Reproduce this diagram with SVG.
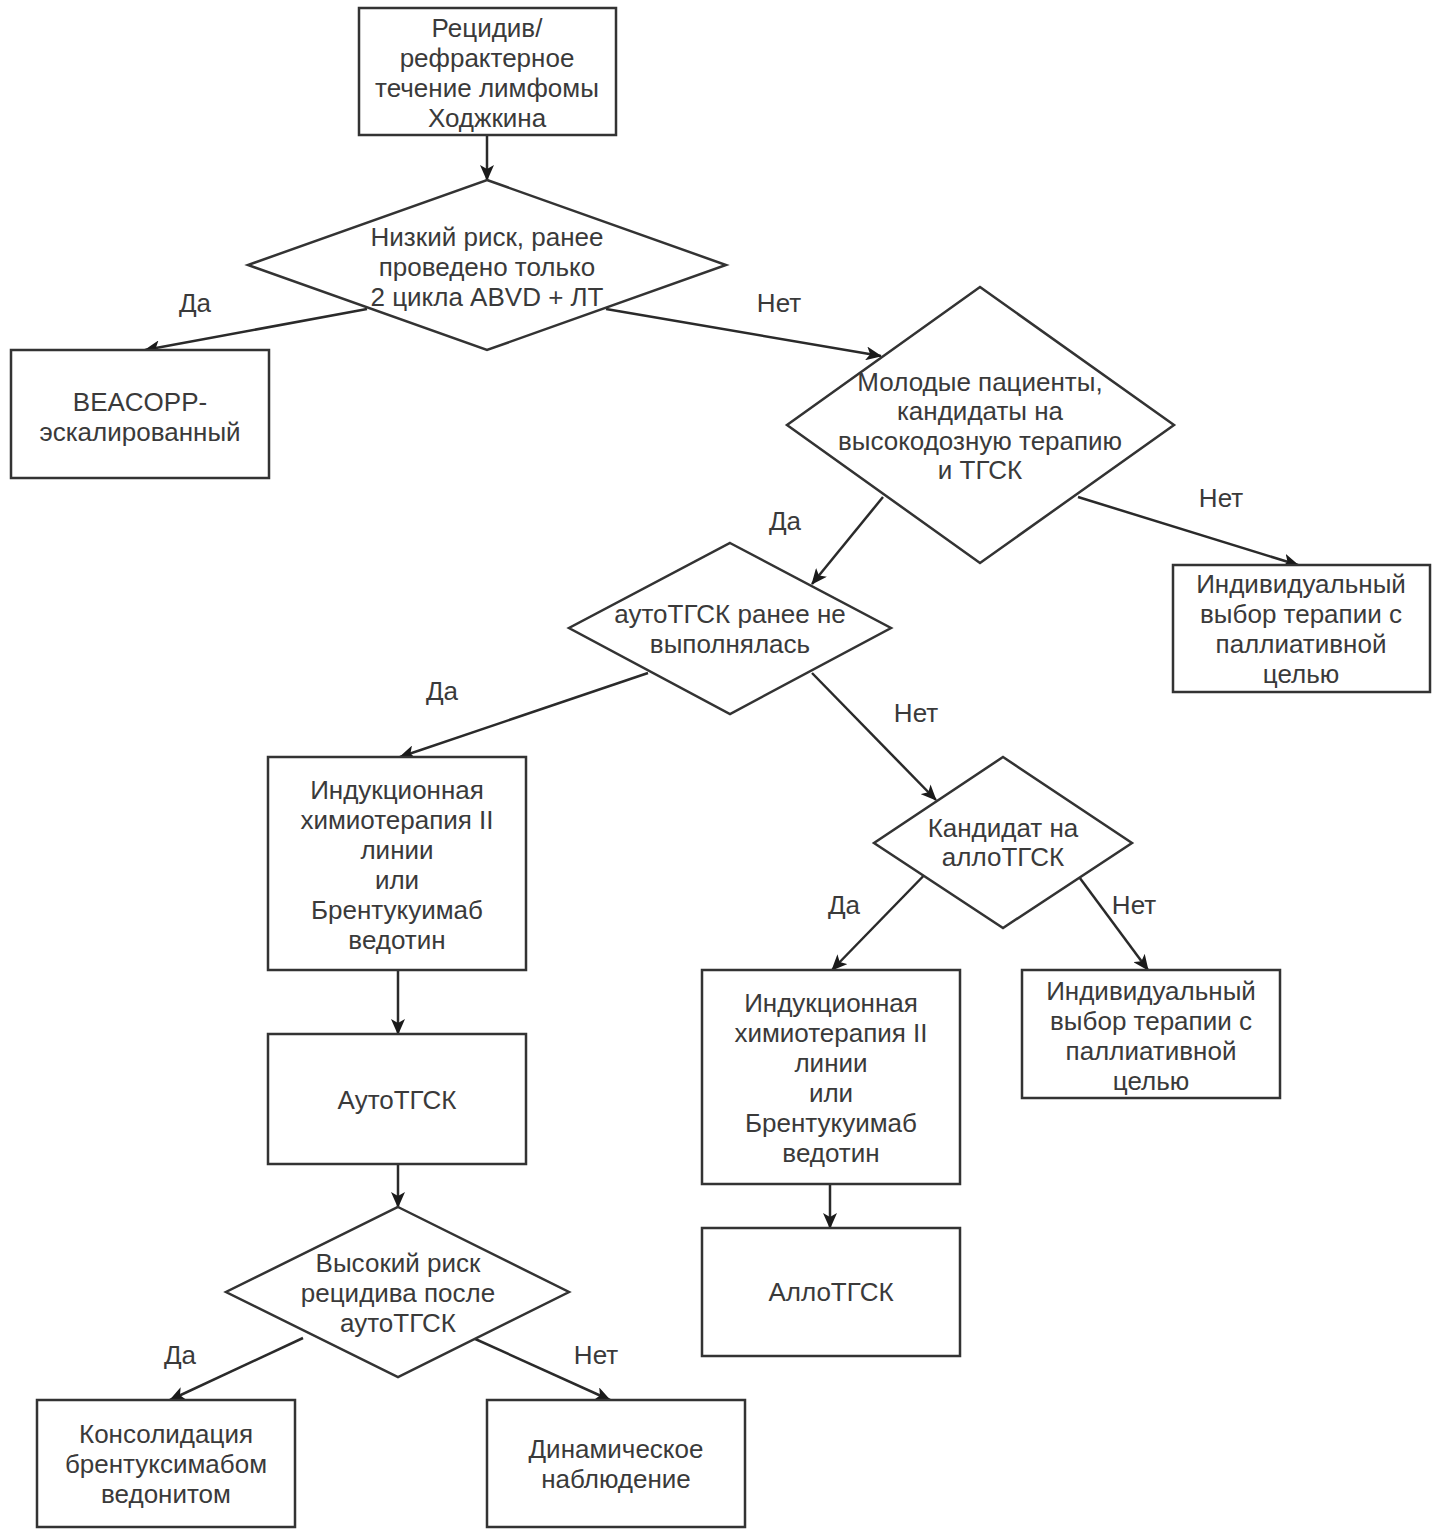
<svg xmlns="http://www.w3.org/2000/svg" width="1437" height="1536" viewBox="0 0 1437 1536">
<defs>
<style>
.box{fill:#ffffff;stroke:#333333;stroke-width:2.5}
.t{font-family:"Liberation Sans",Arial,sans-serif;font-size:26px;fill:#3a3a3a;text-anchor:middle;dominant-baseline:central}
.e{fill:none;stroke:#2a2a2a;stroke-width:2.5}
.lb{font-family:"Liberation Sans",Arial,sans-serif;font-size:26px;fill:#3a3a3a;text-anchor:middle;dominant-baseline:central}
</style>
<marker id="arr" markerUnits="userSpaceOnUse" markerWidth="16" markerHeight="14" viewBox="0 0 16 14" refX="15" refY="7" orient="auto">
<path d="M0,0 L16,7 L0,14 L4,7 z" fill="#1a1a1a"/>
</marker>
</defs>
<rect width="1437" height="1536" fill="#ffffff"/>

<g id="connectors">
<line class="e" x1="487" y1="135" x2="487" y2="180" marker-end="url(#arr)"/>
<line class="e" x1="367" y1="309" x2="145" y2="350" marker-end="url(#arr)"/>
<line class="e" x1="606" y1="309" x2="881" y2="356" marker-end="url(#arr)"/>
<line class="e" x1="883" y1="497" x2="812" y2="584" marker-end="url(#arr)"/>
<line class="e" x1="1078" y1="497" x2="1298" y2="565" marker-end="url(#arr)"/>
<line class="e" x1="648" y1="673" x2="400" y2="757" marker-end="url(#arr)"/>
<line class="e" x1="812" y1="673" x2="936" y2="800" marker-end="url(#arr)"/>
<line class="e" x1="398" y1="970" x2="398" y2="1034" marker-end="url(#arr)"/>
<line class="e" x1="398" y1="1164" x2="398" y2="1207" marker-end="url(#arr)"/>
<line class="e" x1="303" y1="1338" x2="170" y2="1400" marker-end="url(#arr)"/>
<line class="e" x1="473" y1="1338" x2="610" y2="1400" marker-end="url(#arr)"/>
<line class="e" x1="937" y1="862" x2="832" y2="970" marker-end="url(#arr)"/>
<line class="e" x1="1068" y1="862" x2="1148" y2="970" marker-end="url(#arr)"/>
<line class="e" x1="830" y1="1184" x2="830" y2="1228" marker-end="url(#arr)"/>
<text class="lb" x="195" y="303">Да</text>
<text class="lb" x="779" y="303">Нет</text>
<text class="lb" x="785" y="521">Да</text>
<text class="lb" x="1221" y="498">Нет</text>
<text class="lb" x="442" y="691">Да</text>
<text class="lb" x="916" y="713">Нет</text>
<text class="lb" x="844" y="905">Да</text>
<text class="lb" x="1134" y="905">Нет</text>
<text class="lb" x="180" y="1355">Да</text>
<text class="lb" x="596" y="1355">Нет</text>
</g>

<g id="start">
<rect class="box" x="359" y="8" width="257" height="127"/>
<text class="t" x="487" y="28">Рецидив/</text>
<text class="t" x="487" y="58">рефрактерное</text>
<text class="t" x="487" y="88">течение лимфомы</text>
<text class="t" x="487" y="118">Ходжкина</text>
</g>

<g id="d1">
<polygon class="box" points="487,180 726,265 487,350 248,265"/>
<text class="t" x="487" y="237">Низкий риск, ранее</text>
<text class="t" x="487" y="267">проведено только</text>
<text class="t" x="487" y="297">2 цикла ABVD + ЛТ</text>
</g>

<g id="beacopp">
<rect class="box" x="11" y="350" width="258" height="128"/>
<text class="t" x="140" y="402">BEACOPP-</text>
<text class="t" x="140" y="432">эскалированный</text>
</g>

<g id="d2">
<polygon class="box" points="980,287 1174,425 980,563 787,425"/>
<text class="t" x="980" y="382">Молодые пациенты,</text>
<text class="t" x="980" y="411">кандидаты на</text>
<text class="t" x="980" y="441">высокодозную терапию</text>
<text class="t" x="980" y="470">и ТГСК</text>
</g>

<g id="palliative1">
<rect class="box" x="1173" y="565" width="257" height="127"/>
<text class="t" x="1301" y="584">Индивидуальный</text>
<text class="t" x="1301" y="614">выбор терапии с</text>
<text class="t" x="1301" y="644">паллиативной</text>
<text class="t" x="1301" y="674">целью</text>
</g>

<g id="d3">
<polygon class="box" points="730,543 891,628 730,714 569,628"/>
<text class="t" x="730" y="614">аутоТГСК ранее не</text>
<text class="t" x="730" y="644">выполнялась</text>
</g>

<g id="induction1">
<rect class="box" x="268" y="757" width="258" height="213"/>
<text class="t" x="397" y="790">Индукционная</text>
<text class="t" x="397" y="820">химиотерапия II</text>
<text class="t" x="397" y="850">линии</text>
<text class="t" x="397" y="880">или</text>
<text class="t" x="397" y="910">Брентукуимаб</text>
<text class="t" x="397" y="940">ведотин</text>
</g>

<g id="auto">
<rect class="box" x="268" y="1034" width="258" height="130"/>
<text class="t" x="397" y="1100">АутоТГСК</text>
</g>

<g id="d4">
<polygon class="box" points="398,1207 569,1292 398,1377 226,1292"/>
<text class="t" x="398" y="1263">Высокий риск</text>
<text class="t" x="398" y="1293">рецидива после</text>
<text class="t" x="398" y="1323">аутоТГСК</text>
</g>

<g id="consolidation">
<rect class="box" x="37" y="1400" width="258" height="127"/>
<text class="t" x="166" y="1434">Консолидация</text>
<text class="t" x="166" y="1464">брентуксимабом</text>
<text class="t" x="166" y="1494">ведонитом</text>
</g>

<g id="observation">
<rect class="box" x="487" y="1400" width="258" height="127"/>
<text class="t" x="616" y="1449">Динамическое</text>
<text class="t" x="616" y="1479">наблюдение</text>
</g>

<g id="d5">
<polygon class="box" points="1003,757 1132,843 1003,928 874,843"/>
<text class="t" x="1003" y="828">Кандидат на</text>
<text class="t" x="1003" y="857">аллоТГСК</text>
</g>

<g id="induction2">
<rect class="box" x="702" y="970" width="258" height="214"/>
<text class="t" x="831" y="1003">Индукционная</text>
<text class="t" x="831" y="1033">химиотерапия II</text>
<text class="t" x="831" y="1063">линии</text>
<text class="t" x="831" y="1093">или</text>
<text class="t" x="831" y="1123">Брентукуимаб</text>
<text class="t" x="831" y="1153">ведотин</text>
</g>

<g id="allo">
<rect class="box" x="702" y="1228" width="258" height="128"/>
<text class="t" x="831" y="1292">АллоТГСК</text>
</g>

<g id="palliative2">
<rect class="box" x="1022" y="970" width="258" height="128"/>
<text class="t" x="1151" y="991">Индивидуальный</text>
<text class="t" x="1151" y="1021">выбор терапии с</text>
<text class="t" x="1151" y="1051">паллиативной</text>
<text class="t" x="1151" y="1081">целью</text>
</g>
</svg>
